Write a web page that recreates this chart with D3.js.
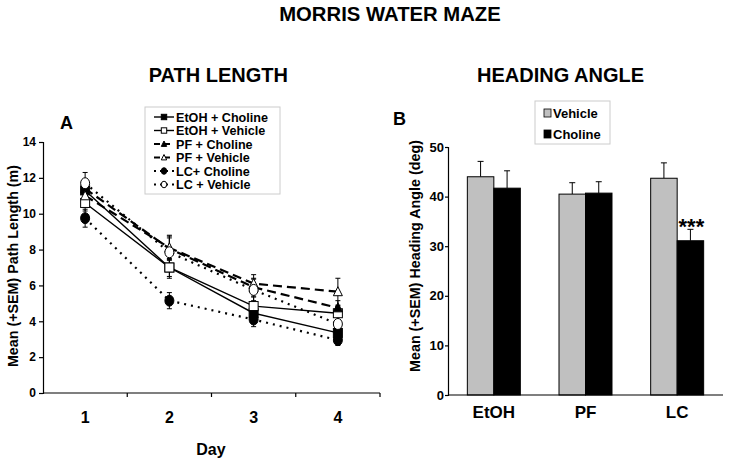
<!DOCTYPE html>
<html>
<head>
<meta charset="utf-8">
<script src="https://cdnjs.cloudflare.com/ajax/libs/d3/7.8.5/d3.min.js"></script>
<style>
  html, body { margin: 0; padding: 0; background: #fff; }
  svg { display: block; font-family: Arial, "Liberation Sans", sans-serif; font-weight: bold; }
</style>
</head>
<body>
<svg id="chart" width="729" height="465"></svg>
<script>
// ---------- Panel A data: path length (m) ----------
const days = ["1", "2", "3", "4"];
const etohCholine    = [11.3, 7.0, 4.45, 3.35];
const etohCholineSem = [0.5, 0.5, 0.5, 0.35];
const etohVehicle    = [10.6, 7.0, 4.85, 4.45];
const etohVehicleSem = [0.45, 0.6, 0.5, 0.4];
const pfCholine      = [11.4, 8.05, 5.9, 4.75];
const pfCholineSem   = [0.5, 0.6, 0.5, 0.4];
const pfVehicle      = [11.0, 8.1, 6.1, 5.65];
const pfVehicleSem   = [0.5, 0.7, 0.5, 0.75];
const lcCholine      = [9.75, 5.15, 4.1, 2.95];
const lcCholineSem   = [0.5, 0.45, 0.4, 0.3];
const lcVehicle      = [11.7, 7.85, 5.75, 3.85];
const lcVehicleSem   = [0.6, 0.9, 0.6, 0.5];
const pathTicks = [0, 2, 4, 6, 8, 10, 12, 14];

// ---------- Panel B data: heading angle (deg) ----------
const groups = ["EtOH", "PF", "LC"];
const vehicleAngle    = [44.0, 40.5, 43.7];
const vehicleAngleSem = [3.1, 2.3, 3.1];
const cholineAngle    = [41.7, 40.7, 31.1];
const cholineAngleSem = [3.5, 2.3, 2.3];
const angleTicks = [0, 10, 20, 30, 40, 50];

const svg = d3.select("#chart");

// ---------- Titles ----------
svg.append("text").attr("x", 390).attr("y", 21).attr("text-anchor", "middle")
  .attr("font-size", 20.3).text("MORRIS WATER MAZE");
svg.append("text").attr("x", 288).attr("y", 82).attr("text-anchor", "end")
  .attr("font-size", 20).text("PATH LENGTH");
svg.append("text").attr("x", 477).attr("y", 82).attr("text-anchor", "start")
  .attr("font-size", 20).text("HEADING ANGLE");
svg.append("text").attr("x", 60).attr("y", 129).attr("font-size", 18).text("A");
svg.append("text").attr("x", 393).attr("y", 125).attr("font-size", 18).text("B");

// ---------- Panel A ----------
const xA = d3.scaleBand().domain(days).range([43, 380]);
const yA = d3.scaleLinear().domain([0, 14]).range([393, 142]);

const gA = svg.append("g");
const yAxisA = d3.axisLeft(yA).tickValues(pathTicks).tickSize(4).tickPadding(3);
gA.append("g").attr("transform", "translate(43,0)").call(yAxisA)
  .call(g => { g.select(".domain").attr("stroke", "#000").attr("stroke-width", 1.2);
               g.selectAll(".tick line").attr("stroke-width", 1.2);
               g.selectAll("text").attr("font-size", 12).attr("font-weight", "bold").attr("font-family", "Arial, 'Liberation Sans', sans-serif"); });
const xAxisLine = gA.append("g");
xAxisLine.append("line").attr("x1", xA.range()[0]).attr("x2", xA.range()[1])
  .attr("y1", yA(0)).attr("y2", yA(0)).attr("stroke", "#000").attr("stroke-width", 1.2);
xAxisLine.selectAll(".xt").data(days).enter().append("line")
  .attr("x1", d => xA(d) + xA.bandwidth()).attr("x2", d => xA(d) + xA.bandwidth())
  .attr("y1", yA(0)).attr("y2", yA(0) + 4).attr("stroke", "#000").attr("stroke-width", 1.2);
xAxisLine.selectAll(".xl").data(days).enter().append("text")
  .attr("x", d => xA(d) + xA.bandwidth() / 2).attr("y", 423)
  .attr("text-anchor", "middle").attr("font-size", 16).text(d => d);
svg.append("text").attr("x", 211).attr("y", 455).attr("text-anchor", "middle")
  .attr("font-size", 16).text("Day");
svg.append("text").attr("transform", "translate(18,266) rotate(-90)")
  .attr("text-anchor", "middle").attr("font-size", 14.3).text("Mean (+SEM) Path Length (m)");

const seriesA = [
  { name: "EtOH + Choline", vals: etohCholine, sem: etohCholineSem, dash: null, width: 1.4, marker: "square", fill: "#000" },
  { name: "EtOH + Vehicle", vals: etohVehicle, sem: etohVehicleSem, dash: null, width: 1.4, marker: "square", fill: "#fff" },
  { name: "PF + Choline",   vals: pfCholine,   sem: pfCholineSem,   dash: "9,5", width: 2.2, marker: "triangle", fill: "#000" },
  { name: "PF + Vehicle",   vals: pfVehicle,   sem: pfVehicleSem,   dash: "9,5", width: 2.2, marker: "triangle", fill: "#fff" },
  { name: "LC+ Choline",    vals: lcCholine,   sem: lcCholineSem,   dash: "2,5", width: 2.2, marker: "circle", fill: "#000" },
  { name: "LC + Vehicle",   vals: lcVehicle,   sem: lcVehicleSem,   dash: "2,5", width: 2.2, marker: "circle", fill: "#fff" }
];

const cx = d => xA(d) + xA.bandwidth() / 2;
const line = d3.line().x((v, i) => cx(days[i])).y(v => yA(v));

function drawMarker(g, type, x, y, fill, scale) {
  const s = scale || 1;
  if (type === "square") {
    g.append("rect").attr("x", x - 4.5 * s).attr("y", y - 4.5 * s).attr("width", 9 * s).attr("height", 9 * s)
      .attr("fill", fill).attr("stroke", "#000").attr("stroke-width", 1);
  } else if (type === "triangle") {
    g.append("path").attr("d", `M${x},${y - 5 * s}L${x + 4.5 * s},${y + 4 * s}L${x - 4.5 * s},${y + 4 * s}Z`)
      .attr("fill", fill).attr("stroke", "#000").attr("stroke-width", 1);
  } else {
    g.append("ellipse").attr("cx", x).attr("cy", y).attr("rx", 4.5 * s).attr("ry", 5.5 * s)
      .attr("fill", fill).attr("stroke", "#000").attr("stroke-width", 1);
  }
}

seriesA.forEach(s => {
  gA.append("path").attr("d", line(s.vals)).attr("fill", "none").attr("stroke", "#000")
    .attr("stroke-width", s.width).attr("stroke-dasharray", s.dash);
});
seriesA.forEach(s => {
  s.vals.forEach((v, i) => {
    const x = cx(days[i]);
    const g = gA.append("g").attr("stroke", "#000").attr("stroke-width", 1);
    g.append("line").attr("x1", x).attr("x2", x).attr("y1", yA(v + s.sem[i])).attr("y2", yA(v - s.sem[i]));
    g.append("line").attr("x1", x - 2.5).attr("x2", x + 2.5).attr("y1", yA(v + s.sem[i])).attr("y2", yA(v + s.sem[i]));
    g.append("line").attr("x1", x - 2.5).attr("x2", x + 2.5).attr("y1", yA(v - s.sem[i])).attr("y2", yA(v - s.sem[i]));
  });
});
seriesA.forEach(s => {
  s.vals.forEach((v, i) => drawMarker(gA, s.marker, cx(days[i]), yA(v), s.fill));
});

// legend A
const legA = svg.append("g");
legA.append("rect").attr("x", 145).attr("y", 107).attr("width", 135).attr("height", 87)
  .attr("fill", "#fff").attr("stroke", "#ccc").attr("stroke-width", 1);
seriesA.forEach((s, i) => {
  const y = 117 + i * 13.5;
  legA.append("line").attr("x1", 154).attr("x2", 174).attr("y1", y).attr("y2", y)
    .attr("stroke", "#000").attr("stroke-width", s.dash ? 1.8 : 1.4)
    .attr("stroke-dasharray", s.dash === "9,5" ? "6,4" : (s.dash ? "2,4" : null));
  drawMarker(legA, s.marker, 164, y, s.fill, 0.6);
  legA.append("text").attr("x", 176).attr("y", y + 4.5).attr("font-size", 12.6).text(s.name);
});

// ---------- Panel B ----------
const xB = d3.scaleBand().domain(groups).range([448, 723]);
const subgroups = ["Vehicle", "Choline"];
const xB1 = d3.scaleBand().domain(subgroups).range([0, xB.bandwidth()]).paddingOuter(0.73).paddingInner(0);
const yB = d3.scaleLinear().domain([0, 50]).range([395, 147]);
const colors = { Vehicle: "#c0c0c0", Choline: "#000" };

const gB = svg.append("g");
const barData = [];
groups.forEach((g, i) => {
  barData.push({ g, k: "Vehicle", v: vehicleAngle[i], e: vehicleAngleSem[i] });
  barData.push({ g, k: "Choline", v: cholineAngle[i], e: cholineAngleSem[i] });
});
barData.forEach(d => {
  const x = xB(d.g) + xB1(d.k) + xB1.bandwidth() / 2;
  gB.append("line").attr("x1", x).attr("x2", x).attr("y1", yB(d.v)).attr("y2", yB(d.v + d.e))
    .attr("stroke", "#000").attr("stroke-width", 1);
  gB.append("line").attr("x1", x - 3).attr("x2", x + 3).attr("y1", yB(d.v + d.e)).attr("y2", yB(d.v + d.e))
    .attr("stroke", "#000").attr("stroke-width", 1);
});
gB.selectAll(".bar").data(barData).enter().append("rect")
  .attr("x", d => xB(d.g) + xB1(d.k)).attr("y", d => yB(d.v))
  .attr("width", xB1.bandwidth()).attr("height", d => yB(0) - yB(d.v))
  .attr("fill", d => colors[d.k]).attr("stroke", "#000").attr("stroke-width", 1);

const yAxisB = d3.axisLeft(yB).tickValues(angleTicks).tickSize(3).tickPadding(1);
gB.append("g").attr("transform", "translate(448,0)").call(yAxisB)
  .call(g => { g.select(".domain").attr("stroke-width", 1.2);
               g.selectAll(".tick line").attr("stroke-width", 1.2);
               g.selectAll("text").attr("font-size", 13).attr("font-weight", "bold").attr("font-family", "Arial, 'Liberation Sans', sans-serif"); });
gB.append("line").attr("x1", 448).attr("x2", 723).attr("y1", yB(0)).attr("y2", yB(0))
  .attr("stroke", "#000").attr("stroke-width", 1.2);
gB.selectAll(".xl").data(groups).enter().append("text")
  .attr("x", d => xB(d) + xB.bandwidth() / 2).attr("y", 418)
  .attr("text-anchor", "middle").attr("font-size", 17).text(d => d);
svg.append("text").attr("transform", "translate(420,256) rotate(-90)")
  .attr("text-anchor", "middle").attr("font-size", 14.3).text("Mean (+SEM) Heading Angle (deg)");

svg.append("text").attr("x", xB("LC") + xB1("Choline") + xB1.bandwidth() / 2 + 1)
  .attr("y", 234).attr("text-anchor", "middle").attr("font-size", 22).text("***");

// legend B
const legB = svg.append("g");
legB.append("rect").attr("x", 535).attr("y", 101).attr("width", 75).attr("height", 43)
  .attr("fill", "#fff").attr("stroke", "#ccc").attr("stroke-width", 1);
subgroups.forEach((k, i) => {
  const y = 113 + i * 21;
  legB.append("rect").attr("x", 544).attr("y", y - 4).attr("width", 7).attr("height", 8)
    .attr("fill", colors[k]).attr("stroke", "#000").attr("stroke-width", 0.8);
  legB.append("text").attr("x", 553).attr("y", y + 5).attr("font-size", 13).text(k);
});
</script>
</body>
</html>
